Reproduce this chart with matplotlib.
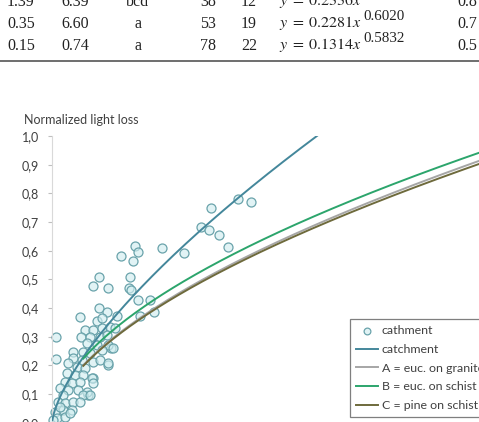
import numpy as np
import matplotlib.pyplot as plt
from matplotlib.lines import Line2D

plt.rcParams['mathtext.fontset'] = 'stix'

W, H = 479, 422

# table rows (only the bottom of the table is visible)
col1 = ["1.39", "0.35", "0.15"]
col2 = ["6.39", "6.60", "0.74"]
col3 = ["bcd", "a", "a"]
col4 = ["38", "53", "78"]
col5 = ["12", "19", "22"]
eq_a = ["0.2336", "0.2281", "0.1314"]
eq_b = ["0.6176", "0.6020", "0.5832"]
col7 = ["0.8", "0.7", "0.5"]

# observed points (catchment)
pt_x = [4.83, 5.81, 6.02, 5.71, 7.75, 9.27, 10.50, 11.02, 11.19, 11.73, 12.37, 13.05, 13.98,
        3.30, 2.85, 3.95, 5.48, 5.43, 5.55, 6.06, 6.92, 6.18, 7.17, 4.57, 4.12, 2.00, 0.30,
        0.28, 3.91, 2.90, 2.55,
        3.32, 3.84, 3.14, 3.49, 2.32, 2.90, 3.49, 4.07, 4.43, 2.02, 2.67, 3.37, 3.84, 2.44,
        3.14, 3.96, 1.50, 2.20, 2.67, 3.49, 4.26, 1.50, 2.09, 2.90, 3.37, 3.96, 1.15, 1.74,
        2.32, 1.03, 1.62, 2.20, 2.79, 2.90, 0.91, 1.38, 1.97, 0.56, 1.15, 1.85, 2.44, 2.20,
        2.67, 0.79, 0.44, 0.91, 1.50, 1.97, 0.79, 1.38, 0.21, 0.33, 0.91, 0.09, 1.26, 0.56]
pt_y = [0.581, 0.615, 0.594, 0.563, 0.608, 0.592, 0.682, 0.671, 0.748, 0.656, 0.614, 0.780, 0.769,
        0.509, 0.477, 0.470, 0.509, 0.470, 0.463, 0.429, 0.428, 0.371, 0.387, 0.371, 0.260, 0.367, 0.300,
        0.221, 0.201, 0.155, 0.097,
        0.401, 0.387, 0.355, 0.366, 0.323, 0.323, 0.329, 0.335, 0.329, 0.300, 0.300, 0.300, 0.306, 0.277,
        0.271, 0.271, 0.248, 0.248, 0.242, 0.254, 0.260, 0.225, 0.219, 0.213, 0.219, 0.207, 0.207, 0.195,
        0.190, 0.172, 0.166, 0.166, 0.155, 0.137, 0.143, 0.137, 0.143, 0.120, 0.114, 0.114, 0.108, 0.097,
        0.097, 0.097, 0.073, 0.068, 0.073, 0.073, 0.044, 0.044, 0.038, 0.015, 0.021, 0.009, 0.033, 0.056]

# fitted power curves y = a * x^b, drawn from xmin on
fit_names = ["catchment", "A = euc. on granite", "B = euc. on schist", "C = pine on schist"]
fit_a = [0.133, 0.127, 0.145, 0.1255]
fit_b = [0.69, 0.58, 0.55, 0.58]
fit_xmin = [0.02, 2.2, 2.2, 2.2]
fit_colors = ["#44879b", "#a6a6a6", "#2ca56c", "#6e6a3c"]

yticks = [0.0, 0.1, 0.2, 0.3, 0.4, 0.5, 0.6, 0.7, 0.8, 0.9, 1.0]
ytick_labels = ["0,0", "0,1", "0,2", "0,3", "0,4", "0,5", "0,6", "0,7", "0,8", "0,9", "1,0"]


def fx(px):
    return px / W


def fy(py):
    return 1 - py / H


fig = plt.figure(figsize=(W / 100, H / 100), dpi=100)
renderer = fig.canvas.get_renderer()

# table fragment
serif = dict(family="Liberation Serif", size=11.5, color="#222222", va="baseline")
for i, base in enumerate([5.5, 27.5, 49.5]):
    y = fy(base)
    fig.text(fx(7), y, col1[i], **serif)
    fig.text(fx(61), y, col2[i], **serif)
    fig.text(fx(138), y, col3[i], ha="center", **serif)
    fig.text(fx(200), y, col4[i], **serif)
    fig.text(fx(241), y, col5[i], **serif)
    eq = fig.text(fx(279), y, r"$y\;=\;%sx$" % eq_a[i], **serif)
    x1 = eq.get_window_extent(renderer).x1
    fig.text((x1 + 1.5) / W, fy(base - 7), eq_b[i], family="Liberation Serif",
             size=10.8, color="#222222", va="baseline")
    fig.text(fx(457), y, col7[i], **serif)
fig.add_artist(Line2D([0, 1], [fy(60.7), fy(60.7)], transform=fig.transFigure,
                      color="#555555", lw=1.2))

# chart
left, right = fx(52), 1.0
top, bottom = fy(136), fy(422.7)
ax = fig.add_axes([left, bottom, right - left, top - bottom])
ax.set_xlim(0, 30)
ax.set_ylim(0, 1)

ax.scatter(pt_x, pt_y, s=42, facecolor=(0.82, 0.93, 0.94, 0.65),
           edgecolor="#6aa3ab", linewidth=0.9, zorder=2, clip_on=False,
           label="cathment")

for name, a, b, x0, c in zip(fit_names, fit_a, fit_b, fit_xmin, fit_colors):
    u = np.linspace(x0, 30, 300)
    ax.plot(u, a * u ** b, color=c, lw=1.4, zorder=3, label=name)

ax.set_yticks(yticks)
ax.set_yticklabels(ytick_labels)
ax.set_xticks([])
for s in ["top", "right", "bottom"]:
    ax.spines[s].set_visible(False)
ax.spines["left"].set_color("#d9d9d9")
ax.tick_params(axis="y", length=3, width=0.8, pad=6.5, color="#bfbfbf",
               labelcolor="#404040", labelsize=9)
for t in ax.get_yticklabels():
    t.set_family("Lato")

fig.text(fx(24), fy(120), "Normalized light loss", family="Lato", size=9,
         color="#404040", va="center")

leg = ax.legend(loc="upper left", bbox_to_anchor=(fx(350), fy(319.3)),
                bbox_transform=fig.transFigure, borderaxespad=0,
                fancybox=False, framealpha=1, edgecolor="#7f7f7f",
                prop=dict(family="Lato", size=8.9), labelspacing=0.62,
                handlelength=1.8, handletextpad=0.25, borderpad=0.5,
                markerscale=0.75)
leg.get_frame().set_linewidth(0.9)
for t in leg.get_texts():
    t.set_color("#404040")

plt.savefig("out.png", dpi=100)
